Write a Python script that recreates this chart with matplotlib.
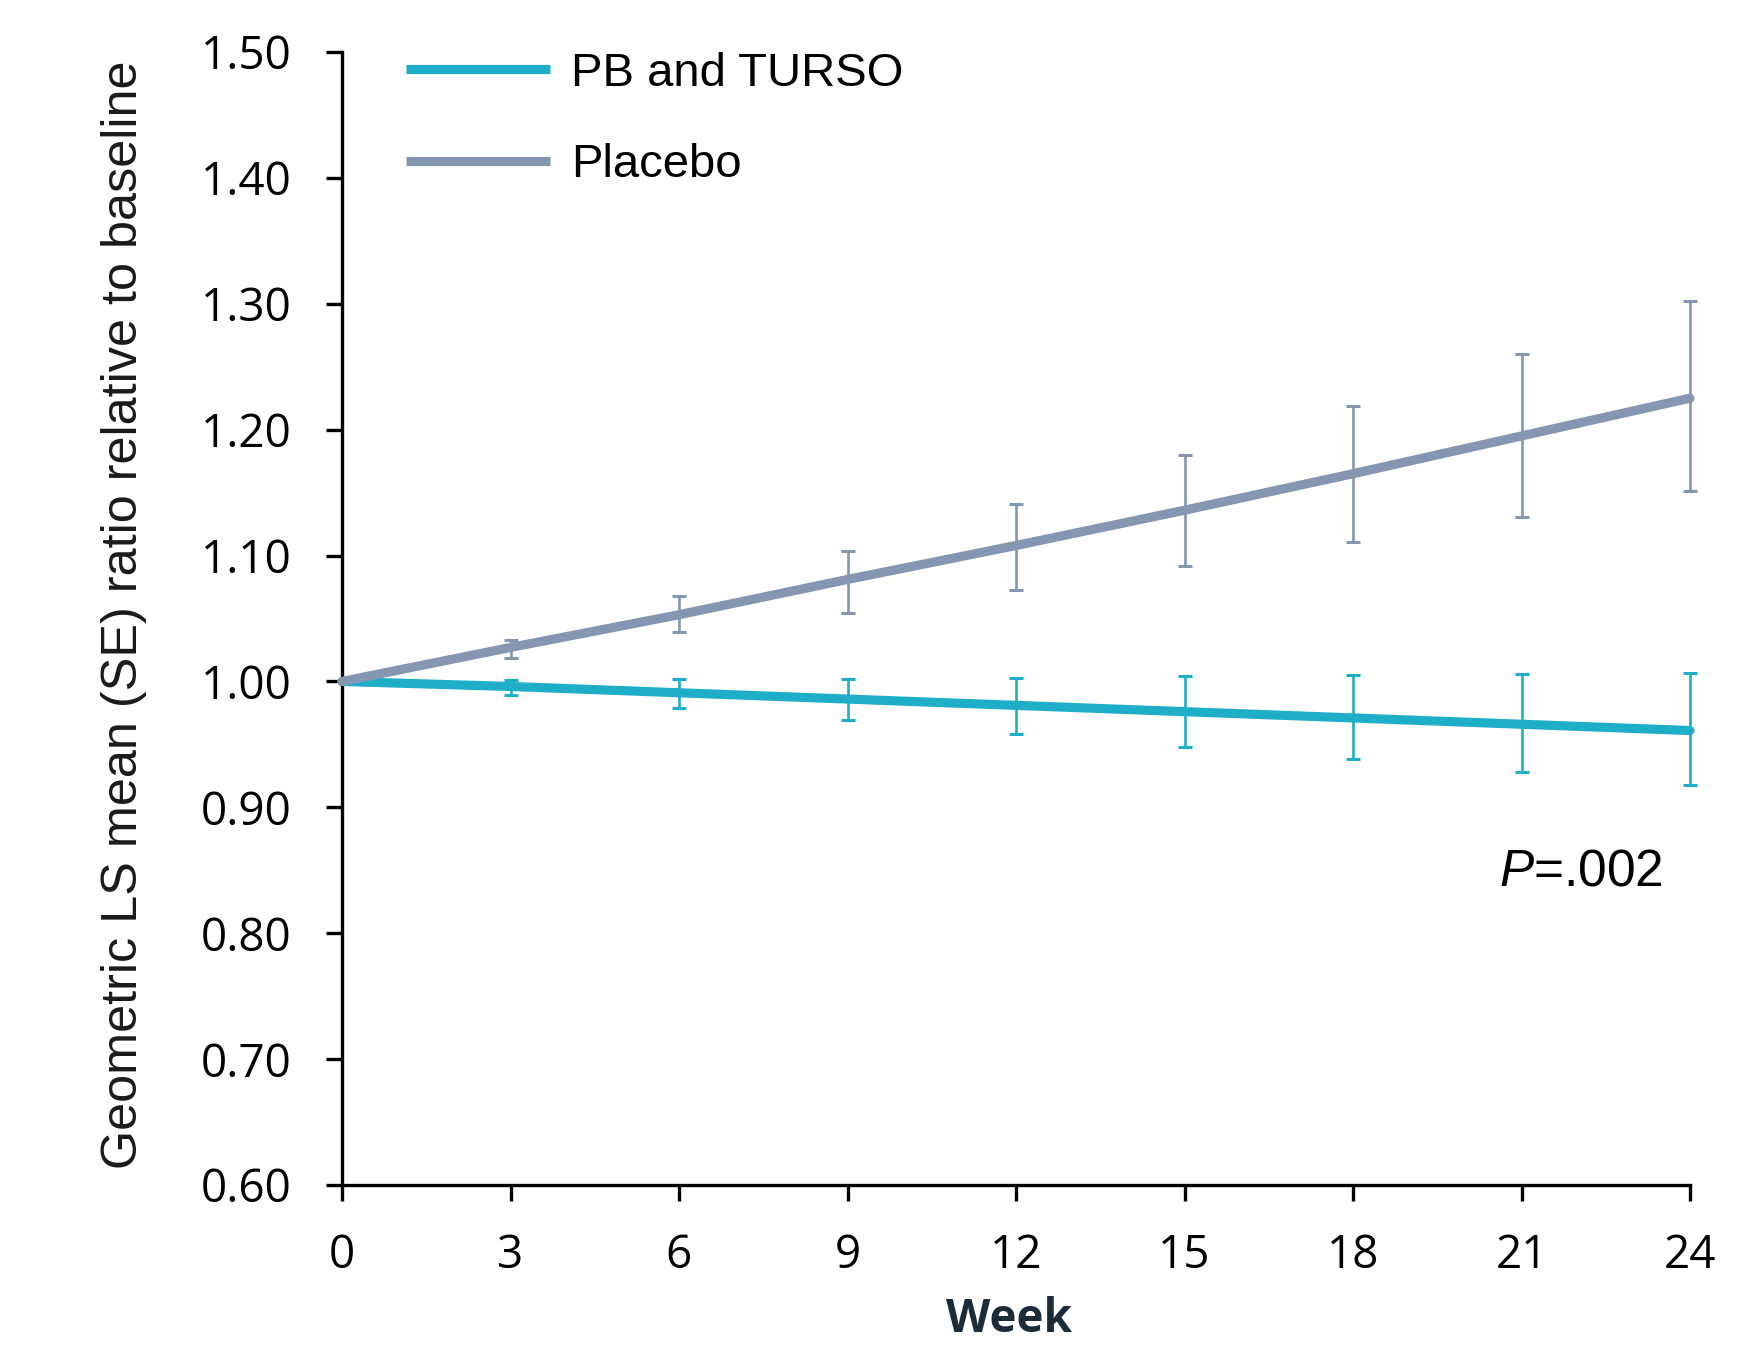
import numpy as np
import matplotlib
matplotlib.use('Agg')
import matplotlib.pyplot as plt

# data
weeks = [0, 3, 6, 9, 12, 15, 18, 21, 24]
pb_mean = [1.000, 0.996, 0.991, 0.986, 0.981, 0.976, 0.971, 0.966, 0.961]
pb_upper = [1.000, 1.001, 1.002, 1.002, 1.003, 1.004, 1.005, 1.006, 1.007]
pb_lower = [1.000, 0.989, 0.979, 0.969, 0.958, 0.948, 0.938, 0.928, 0.918]
placebo_mean = [1.000, 1.027, 1.053, 1.081, 1.108, 1.136, 1.165, 1.195, 1.225]
placebo_upper = [1.000, 1.033, 1.068, 1.104, 1.141, 1.180, 1.219, 1.260, 1.302]
placebo_lower = [1.000, 1.019, 1.039, 1.054, 1.073, 1.092, 1.111, 1.131, 1.151]
yticks = [0.60, 0.70, 0.80, 0.90, 1.00, 1.10, 1.20, 1.30, 1.40, 1.50]

pbColor = '#1eaec8'
placeboColor = '#8496b0'

plt.rcParams['mathtext.fontset'] = 'custom'
plt.rcParams['mathtext.it'] = 'Liberation Sans:italic'
plt.rcParams['mathtext.rm'] = 'Liberation Sans'

fig = plt.figure(figsize=(17.43, 13.45), dpi=100)
ax = fig.add_axes([342/1743, 1 - 1185/1345, (1690-342)/1743, (1185-52)/1345])

x = np.array(weeks)

# error bars (none at week 0)
pbErr = [np.array(pb_mean[1:]) - np.array(pb_lower[1:]), np.array(pb_upper[1:]) - np.array(pb_mean[1:])]
plErr = [np.array(placebo_mean[1:]) - np.array(placebo_lower[1:]), np.array(placebo_upper[1:]) - np.array(placebo_mean[1:])]
for mean, err, col in [(pb_mean, pbErr, pbColor), (placebo_mean, plErr, placeboColor)]:
    eb = ax.errorbar(x[1:], mean[1:], yerr=err, fmt='none', ecolor=col, elinewidth=1.9,
                     capsize=4.8, capthick=2.2, zorder=4)
    for art in eb.lines[1] + eb.lines[2]:
        art.set_clip_on(False)

# main lines
pbLine, = ax.plot(x, pb_mean, color=pbColor, lw=6.6, solid_capstyle='round', zorder=3,
                  label='PB and TURSO', clip_on=False)
plLine, = ax.plot(x, placebo_mean, color=placeboColor, lw=6.6, solid_capstyle='round', zorder=3,
                  label='Placebo', clip_on=False)

ax.set_xlim(0, 24)
ax.set_ylim(0.6, 1.5)
ax.set_xticks(weeks)
ax.set_yticks(yticks)
ax.set_yticklabels([f'{v:.2f}' for v in yticks])

for s in ['top', 'right']:
    ax.spines[s].set_visible(False)
for s in ['left', 'bottom']:
    ax.spines[s].set_linewidth(2.4)
    ax.spines[s].set_color('black')

ax.tick_params(axis='both', direction='out', length=11.5, width=2.4, color='black')
ax.tick_params(axis='y', pad=25)
ax.tick_params(axis='x', pad=23)
for lab in ax.get_xticklabels() + ax.get_yticklabels():
    lab.set_fontfamily('Open Sans')
    lab.set_fontsize(33)
    lab.set_color('black')

ax.set_ylabel('Geometric LS mean (SE) ratio relative to baseline', fontsize=36.3,
              family=['Liberation Sans', 'DejaVu Sans'], color='#1a1a1a')
ax.yaxis.set_label_coords(-0.145, 0.503)

ax.set_xlabel('Week', fontsize=33, family=['Open Sans', 'DejaVu Sans'], fontweight='bold',
              color='#1c2b3a', va='top')
ax.xaxis.set_label_coords(0.495, (1185-1296)/1133)

ax.text(23.52, 0.838, r'$\mathit{P}$=.002', ha='right', va='baseline', fontsize=37,
        family=['Liberation Sans', 'DejaVu Sans'], color='black')

leg = ax.legend(handles=[pbLine, plLine], loc='upper left', bbox_to_anchor=(0.0475, 1.0),
                frameon=False, borderpad=0, borderaxespad=0, handlelength=3.05,
                handletextpad=0.45, labelspacing=1.0,
                prop={'family': ['Liberation Sans', 'DejaVu Sans'], 'size': 34})
for h in leg.get_lines():
    h.set_solid_capstyle('butt')

fig.savefig('out.png', dpi=100)
